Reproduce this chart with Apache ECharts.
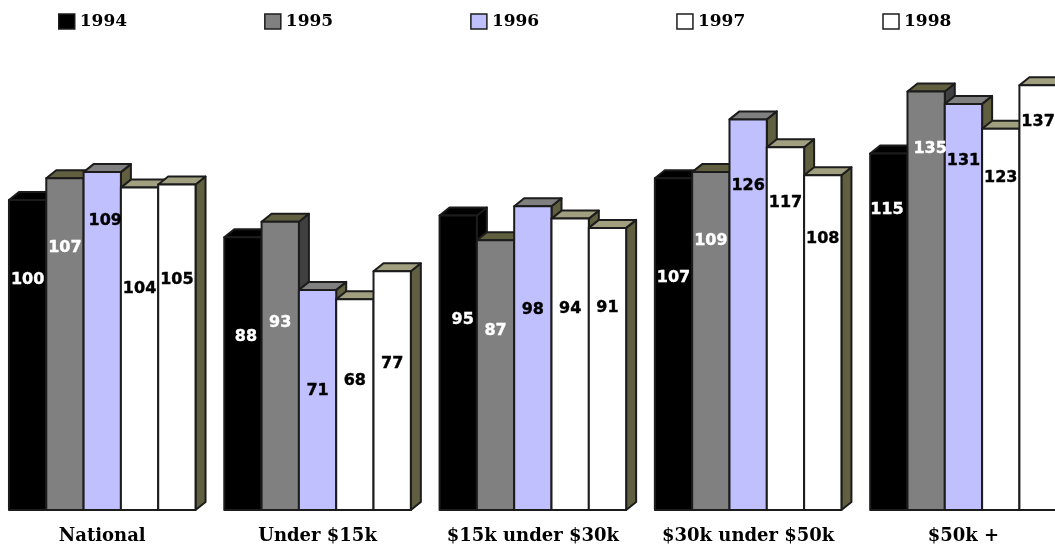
<!DOCTYPE html>
<html>
<head>
<meta charset="utf-8">
<style>html,body{margin:0;padding:0;background:#fff}#chart{width:1055px;height:547px}</style>
<script src="https://cdn.jsdelivr.net/npm/echarts@6/dist/echarts.min.js"></script>
</head>
<body>
<div id="chart"></div>
<script>
// Index values by income group, one list per survey year
const categories = ['National', 'Under $15k', '$15k under $30k', '$30k under $50k', '$50k +'];
const years = ['1994', '1995', '1996', '1997', '1998'];
const values1994 = [100, 88, 95, 107, 115];
const values1995 = [107, 93, 87, 109, 135];
const values1996 = [109, 71, 98, 126, 131];
const values1997 = [104, 68, 94, 117, 123];
const values1998 = [105, 77, 91, 108, 137];

// Height on the value axis at which each bar's number sits
const labelAt1994 = [74.2, 55.8, 61.3, 74.8, 96.8];
const labelAt1995 = [84.5, 60.3, 57.7, 86.8, 116.5];
const labelAt1996 = [93.2, 38.4, 64.5, 104.5, 112.6];
const labelAt1997 = [71.3, 41.6, 64.8, 99, 107.1];
const labelAt1998 = [74.2, 47.1, 65.2, 87.4, 125.2];

const allValues = [values1994, values1995, values1996, values1997, values1998];
const allLabelAt = [labelAt1994, labelAt1995, labelAt1996, labelAt1997, labelAt1998];

// Sideways shift of a few hand-placed numbers: "year,category" -> pixels
const labelShift = { '0,1': 3, '0,2': 4.5, '0,4': -2, '1,4': 4, '2,0': 3 };

// Face colours per year: front, top, right side, number
const faces = [
  { front: '#000000', top: '#000000', side: '#000000', text: '#ffffff' },
  { front: '#808080', top: '#606040', side: '#404040', text: '#ffffff' },
  { front: '#c0c0ff', top: '#808080', side: '#606040', text: '#000000' },
  { front: '#ffffff', top: '#a0a080', side: '#606040', text: '#000000' },
  { front: '#ffffff', top: '#a0a080', side: '#606040', text: '#000000' }
];

const BAR_SHARE = 0.1733;   // bar width as a share of one category band
const DEPTH_X = 10;         // oblique depth of the 3D extrusion
const DEPTH_Y = 8;
const OUTLINE = '#1c1c1c';

function bar3d(yearIdx) {
  const face = faces[yearIdx];
  return function (params, api) {
    const cat = api.value(0);
    const base = api.coord([cat, 0]);
    const head = api.coord([cat, api.value(1)]);
    const w = api.size([1, 0])[0] * BAR_SHARE;
    const x0 = base[0] + (yearIdx - 2.5) * w;
    const x1 = x0 + w;
    const yb = base[1];
    const yt = head[1];
    const line = { stroke: OUTLINE, lineWidth: 2, lineJoin: 'round' };
    return {
      type: 'group',
      children: [
        {
          type: 'polygon',
          shape: { points: [[x1, yt], [x1 + DEPTH_X, yt - DEPTH_Y], [x1 + DEPTH_X, yb - DEPTH_Y], [x1, yb]] },
          style: Object.assign({ fill: face.side }, line)
        },
        {
          type: 'polygon',
          shape: { points: [[x0, yt], [x0 + DEPTH_X, yt - DEPTH_Y], [x1 + DEPTH_X, yt - DEPTH_Y], [x1, yt]] },
          style: Object.assign({ fill: face.top }, line)
        },
        {
          type: 'rect',
          shape: { x: x0, y: yt, width: w, height: yb - yt },
          style: Object.assign({ fill: face.front }, line)
        }
      ]
    };
  };
}

// Numbers go in their own series so that they stay above every bar
function barNumber(params, api) {
  const cat = api.value(0);
  const yearIdx = api.value(1);
  const mark = api.coord([cat, api.value(3)]);
  const w = api.size([1, 0])[0] * BAR_SHARE;
  const color = faces[yearIdx].text;
  return {
    type: 'text',
    style: {
      x: mark[0] + (yearIdx - 2) * w + (labelShift[yearIdx + ',' + cat] || 0),
      y: mark[1],
      text: String(api.value(2)),
      fill: color,
      stroke: color,
      lineWidth: 0.4,
      font: 'bold 16px "DejaVu Sans"',
      align: 'center',
      verticalAlign: 'middle'
    }
  };
}

const barSeries = years.map((year, i) => ({
  name: year,
  type: 'custom',
  clip: false,
  z: 2 + i,
  encode: { x: 0, y: 1 },
  itemStyle: { color: faces[i].front },
  data: categories.map((_, c) => [c, allValues[i][c]]),
  renderItem: bar3d(i)
}));

const numberSeries = {
  name: 'values',
  type: 'custom',
  clip: false,
  z: 20,
  encode: { x: 0, y: 3 },
  data: years.flatMap((_, i) => categories.map((_, c) => [c, i, allValues[i][c], allLabelAt[i][c]])),
  renderItem: barNumber
};

const chart = echarts.init(document.getElementById('chart'), null, { renderer: 'canvas' });
chart.setOption({
  animation: false,
  backgroundColor: '#ffffff',
  legend: {
    left: 53,
    top: 8,
    itemWidth: 16,
    itemHeight: 15,
    itemGap: 137,
    selectedMode: false,
    textStyle: { fontFamily: 'DejaVu Serif', fontWeight: 'bold', fontSize: 17, color: '#000' },
    data: years.map((year, i) => ({
      name: year,
      icon: 'rect',
      itemStyle: { color: faces[i].front, borderColor: OUTLINE, borderWidth: 1.5 }
    }))
  },
  grid: { left: -5.4, width: 1076.5, top: 14, bottom: 37, outerBoundsMode: 'none' },
  xAxis: {
    type: 'category',
    data: categories,
    axisLine: { show: false },
    axisTick: { show: false },
    axisLabel: {
      interval: 0,
      margin: 17,
      fontFamily: 'DejaVu Serif',
      fontWeight: 'bold',
      fontSize: 18,
      color: '#000'
    }
  },
  yAxis: { type: 'value', min: 0, max: 160, show: false, splitLine: { show: false } },
  series: barSeries.concat(numberSeries)
});
</script>
</body>
</html>
